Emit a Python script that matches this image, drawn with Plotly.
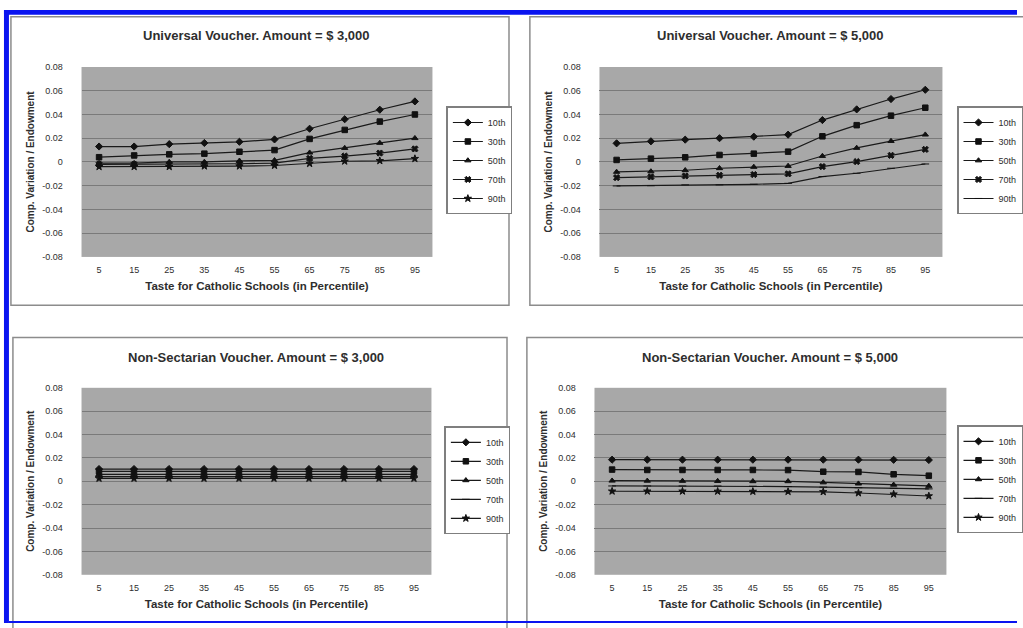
import plotly.graph_objects as go

percentiles = [5, 15, 25, 35, 45, 55, 65, 75, 85, 95]
series_names = ["10th", "30th", "50th", "70th", "90th"]
y_tick_vals = [0.08, 0.06, 0.04, 0.02, 0, -0.02, -0.04, -0.06, -0.08]
y_tick_text = ["0.08", "0.06", "0.04", "0.02", "0", "-0.02", "-0.04", "-0.06", "-0.08"]

titles = [
    "Universal Voucher. Amount = $ 3,000",
    "Universal Voucher. Amount = $ 5,000",
    "Non-Sectarian Voucher. Amount = $ 3,000",
    "Non-Sectarian Voucher. Amount = $ 5,000",
]

# Universal voucher, $3,000
uv3_10 = [0.013, 0.013, 0.015, 0.016, 0.017, 0.019, 0.028, 0.036, 0.044, 0.051]
uv3_30 = [0.004, 0.0055, 0.0064, 0.007, 0.0086, 0.010, 0.0194, 0.027, 0.034, 0.040]
uv3_50 = [-0.001, -0.001, 0.0, 0.0, 0.001, 0.0014, 0.0078, 0.0117, 0.016, 0.020]
uv3_70 = [-0.002, -0.002, -0.002, -0.002, -0.0015, -0.001, 0.003, 0.005, 0.0075, 0.011]
uv3_90 = [-0.004, -0.004, -0.004, -0.0035, -0.0035, -0.003, -0.0014, 0.0006, 0.001, 0.0028]

# Universal voucher, $5,000
uv5_10 = [0.0157, 0.0174, 0.0188, 0.020, 0.0213, 0.023, 0.0353, 0.0443, 0.053, 0.0608]
uv5_30 = [0.0017, 0.0028, 0.0039, 0.0059, 0.007, 0.0087, 0.0216, 0.031, 0.039, 0.0457]
uv5_50 = [-0.0084, -0.008, -0.007, -0.0053, -0.0042, -0.0034, 0.005, 0.0118, 0.0176, 0.023]
uv5_70 = [-0.0132, -0.0126, -0.0118, -0.0112, -0.0106, -0.010, -0.0039, 0.0003, 0.0056, 0.0106]
uv5_90 = [-0.0202, -0.020, -0.0193, -0.0193, -0.0188, -0.018, -0.0123, -0.0095, -0.0053, -0.0017]

# Non-sectarian voucher, $3,000
ns3_10 = [0.0105, 0.0105, 0.0105, 0.0105, 0.0105, 0.0105, 0.0105, 0.0105, 0.0105, 0.0105]
ns3_30 = [0.0085, 0.0085, 0.0085, 0.0085, 0.0085, 0.0085, 0.0085, 0.0085, 0.0085, 0.0085]
ns3_50 = [0.006, 0.006, 0.006, 0.006, 0.006, 0.006, 0.006, 0.006, 0.006, 0.006]
ns3_70 = [0.004, 0.004, 0.004, 0.004, 0.004, 0.004, 0.004, 0.004, 0.004, 0.004]
ns3_90 = [0.0025, 0.0025, 0.0025, 0.0025, 0.0025, 0.0025, 0.0025, 0.0025, 0.0025, 0.0025]

# Non-sectarian voucher, $5,000
ns5_10 = [0.0185, 0.0185, 0.0185, 0.0185, 0.0185, 0.0185, 0.0185, 0.0185, 0.0184, 0.0182]
ns5_30 = [0.010, 0.0097, 0.0097, 0.0097, 0.0097, 0.0096, 0.0082, 0.008, 0.006, 0.0048]
ns5_50 = [0.0005, 0.0004, 0.0003, 0.0002, 0.0, 0.0, -0.001, -0.002, -0.003, -0.004]
ns5_70 = [-0.004, -0.004, -0.004, -0.004, -0.0042, -0.0045, -0.005, -0.0055, -0.006, -0.0065]
ns5_90 = [-0.0085, -0.0085, -0.0085, -0.0086, -0.0087, -0.0088, -0.009, -0.010, -0.011, -0.0126]

panels = [
    [uv3_10, uv3_30, uv3_50, uv3_70, uv3_90],
    [uv5_10, uv5_30, uv5_50, uv5_70, uv5_90],
    [ns3_10, ns3_30, ns3_50, ns3_70, ns3_90],
    [ns5_10, ns5_30, ns5_50, ns5_70, ns5_90],
]

W, H = 1023, 628


def px(x):
    return x / W


def py(y):
    return 1 - y / H


# plot areas in window pixels (x0, x1, y0, y1)
areas = [
    (82, 435, 63, 256),
    (603, 948, 63, 256),
    (82, 434, 389, 579),
    (598, 952, 389, 579),
]
boxes = [
    (11, 512, 12, 305),
    (533, 1040, 12, 305),
    (13, 510, 338, 650),
    (530, 1040, 338, 650),
]
title_y = [31, 31, 358, 358]
legend_center = [(449, 158), (963, 158), (447, 483), (963, 482)]

symbols = [
    ["diamond", "square", "triangle-up", "x", "star"],
    ["diamond", "square", "triangle-up", "x", "line-ew"],
    ["diamond", "square", "triangle-up", "line-ew", "star"],
    ["diamond", "square", "triangle-up", "line-ew", "star"],
]

PLOT_BG = "#a8a8a8"
GRID = "#7a7a7a"
TEXT = "#2e2e2e"
FONT = "Liberation Sans, Arial, sans-serif"

fig = go.Figure()
layout = dict(
    width=W, height=H,
    margin=dict(l=0, r=0, t=0, b=0),
    paper_bgcolor="white",
    plot_bgcolor=PLOT_BG,
    font=dict(family=FONT, color=TEXT),
    shapes=[], annotations=[],
)

for i in range(4):
    n = "" if i == 0 else str(i + 1)
    xa, ya = "x" + n, "y" + n
    lg = "legend" if i == 0 else "legend" + str(i + 1)
    for j, name in enumerate(series_names):
        sym = symbols[i][j]
        fig.add_trace(go.Scatter(
            x=percentiles, y=panels[i][j], name=name, mode="lines+markers",
            xaxis=xa, yaxis=ya, legend=lg,
            line=dict(color="#1a1a1a", width=1.2),
            marker=dict(symbol=sym, size=5.5, color="#111111",
                        line=dict(color="#111111", width=1)),
        ))
    x0, x1, y0, y1 = areas[i]
    layout["xaxis" + n] = dict(
        domain=[px(x0), px(x1)], anchor=ya, range=[0, 100],
        tickvals=percentiles, ticktext=[str(p) for p in percentiles],
        showgrid=False, zeroline=False, showline=False,
        ticks="outside", ticklen=4, tickcolor="rgba(0,0,0,0)",
        tickfont=dict(size=9, color=TEXT),
        title=dict(text="<b>Taste for Catholic Schools (in Percentile)</b>",
                   font=dict(size=11.5, color=TEXT), standoff=8),
    )
    layout["yaxis" + n] = dict(
        domain=[py(y1), py(y0)], anchor=xa, range=[-0.08, 0.08],
        tickvals=y_tick_vals, ticktext=y_tick_text,
        showgrid=True, gridcolor=GRID, gridwidth=1,
        zeroline=False, showline=False,
        ticks="outside", ticklen=16, tickcolor="rgba(0,0,0,0)",
        tickfont=dict(size=9, color=TEXT),
        title=dict(text="<b>Comp. Variation / Endowment</b>",
                   font=dict(size=10, color=TEXT), standoff=5),
    )
    lx, lyc = legend_center[i]
    layout[lg] = dict(
        x=px(lx), y=py(lyc), xanchor="left", yanchor="middle",
        bgcolor="white", bordercolor="#7f7f7f", borderwidth=1.5,
        font=dict(size=9, color=TEXT), itemwidth=30,
        tracegroupgap=0,
    )
    bx0, bx1, by0, by1 = boxes[i]
    layout["shapes"].append(dict(
        type="rect", xref="paper", yref="paper",
        x0=px(bx0), x1=px(bx1), y0=py(by1), y1=py(by0),
        line=dict(color="#8c8c8c", width=1.5), fillcolor="rgba(0,0,0,0)",
        layer="below",
    ))
    layout["annotations"].append(dict(
        text="<b>" + titles[i] + "</b>", xref="paper", yref="paper",
        x=px((x0 + x1) / 2), y=py(title_y[i]), xanchor="center", yanchor="middle",
        showarrow=False, font=dict(size=13, color=TEXT),
    ))

# blue scan border
BLUE = "#0a14f0"
layout["shapes"] += [
    dict(type="rect", xref="paper", yref="paper", x0=px(4), x1=1, y0=py(10), y1=py(5),
         fillcolor=BLUE, line=dict(width=0)),
    dict(type="rect", xref="paper", yref="paper", x0=px(4), x1=px(9), y0=0, y1=py(5),
         fillcolor=BLUE, line=dict(width=0)),
    dict(type="rect", xref="paper", yref="paper", x0=px(9), x1=1, y0=0, y1=py(626),
         fillcolor=BLUE, line=dict(width=0)),
]

fig.update_layout(**layout)

# remove the default page margin / scrollbars so the figure fills the window
page_fix = (
    "document.documentElement.style.margin='0';"
    "document.documentElement.style.padding='0';"
    "document.documentElement.style.overflow='hidden';"
    "document.body.style.margin='0';"
    "document.body.style.padding='0';"
    "document.body.style.overflow='hidden';"
)
fig.write_html("out.html", post_script=page_fix,
               config={"displayModeBar": False, "staticPlot": True})
